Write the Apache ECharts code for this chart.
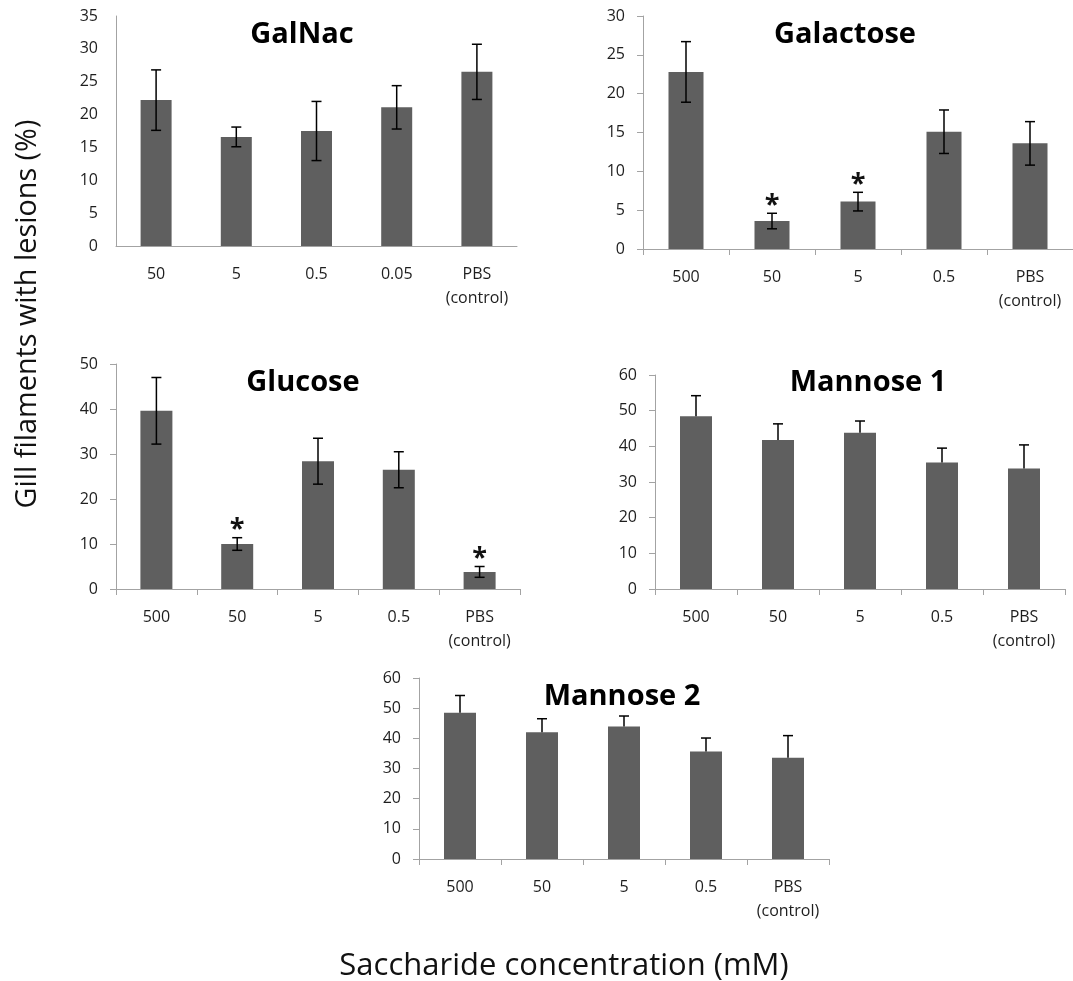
<!DOCTYPE html>
<html>
<head>
<meta charset="utf-8">
<script src="https://cdn.jsdelivr.net/npm/echarts@6/dist/echarts.min.js"></script>
<style>
  html, body { margin: 0; padding: 0; background: #ffffff; }
  #chart { width: 1073px; height: 981px; }
</style>
</head>
<body>
<div id="chart"></div>
<script>
// Saccharide concentrations (mM) on each x axis
const concHigh = ['500', '50', '5', '0.5', 'PBS\n(control)'];
const concLow = ['50', '5', '0.5', '0.05', 'PBS\n(control)'];

// Gill filaments with lesions (%): means and error (SE)
const galnacMean = [22.2, 16.6, 17.5, 21.1, 26.5];
const galnacErr = [4.6, 1.5, 4.5, 3.3, 4.2];

const galactoseMean = [22.8, 3.6, 6.1, 15.1, 13.6];
const galactoseErr = [3.9, 1.0, 1.2, 2.8, 2.8];
const galactoseSig = [0, 1, 1, 0, 0];

const glucoseMean = [39.6, 10.0, 28.4, 26.5, 3.8];
const glucoseErr = [7.4, 1.4, 5.1, 4.0, 1.2];
const glucoseSig = [0, 1, 0, 0, 1];

const mannose1Mean = [48.4, 41.8, 43.8, 35.5, 33.8];
const mannose1Err = [5.8, 4.5, 3.3, 4.0, 6.6];

const mannose2Mean = [48.5, 42.0, 43.9, 35.6, 33.6];
const mannose2Err = [5.7, 4.5, 3.5, 4.5, 7.3];

const panels = [
  { title: 'GalNac', cats: concLow, mean: galnacMean, err: galnacErr, sig: null,
    max: 35, interval: 5, ticks: false, plusOnly: false, barWidth: 31,
    grid: { left: 116, top: 16, width: 401, height: 230 }, titleAt: [302, 35] },
  { title: 'Galactose', cats: concHigh, mean: galactoseMean, err: galactoseErr, sig: galactoseSig,
    max: 30, interval: 5, ticks: true, plusOnly: false, barWidth: 35,
    grid: { left: 643, top: 16, width: 430, height: 233 }, titleAt: [845, 35] },
  { title: 'Glucose', cats: concHigh, mean: glucoseMean, err: glucoseErr, sig: glucoseSig,
    max: 50, interval: 10, ticks: true, plusOnly: false, barWidth: 32,
    grid: { left: 116, top: 364, width: 404, height: 225 }, titleAt: [303, 383] },
  { title: 'Mannose 1', cats: concHigh, mean: mannose1Mean, err: mannose1Err, sig: null,
    max: 60, interval: 10, ticks: true, plusOnly: true, barWidth: 32,
    grid: { left: 655, top: 375, width: 410, height: 214 }, titleAt: [868, 383] },
  { title: 'Mannose 2', cats: concHigh, mean: mannose2Mean, err: mannose2Err, sig: null,
    max: 60, interval: 10, ticks: true, plusOnly: true, barWidth: 32,
    grid: { left: 419, top: 678, width: 410, height: 181 }, titleAt: [622, 697] }
];

const FONT = '"Open Sans", Lato, sans-serif';
const AXIS_COLOR = '#a3a3a3';
const LABEL_COLOR = '#1e1e1e';
const BAR_COLOR = '#5f5f5f';

const grid = [], xAxis = [], yAxis = [], series = [], graphic = [];

panels.forEach((p, i) => {
  grid.push(Object.assign({ containLabel: false }, p.grid));

  xAxis.push({
    type: 'category', gridIndex: i, data: p.cats, boundaryGap: true,
    axisLine: { show: true, lineStyle: { color: AXIS_COLOR, width: 1 } },
    axisTick: { show: p.ticks, length: 6, lineStyle: { color: AXIS_COLOR } },
    axisLabel: { interval: 0, margin: 16, fontSize: 16, lineHeight: 24,
                 color: LABEL_COLOR, fontFamily: FONT },
    splitLine: { show: false }
  });

  yAxis.push({
    type: 'value', gridIndex: i, min: 0, max: p.max, interval: p.interval,
    axisLine: { show: true, lineStyle: { color: AXIS_COLOR, width: 1 } },
    axisTick: { show: p.ticks, length: 6, lineStyle: { color: AXIS_COLOR } },
    axisLabel: { margin: 18, fontSize: 16, color: LABEL_COLOR, fontFamily: FONT },
    splitLine: { show: false }
  });

  series.push({
    type: 'bar', xAxisIndex: i, yAxisIndex: i, data: p.mean,
    barWidth: p.barWidth, itemStyle: { color: BAR_COLOR },
    silent: true, animation: false, z: 2
  });

  // error bars
  const plusOnly = p.plusOnly;
  series.push({
    type: 'custom', xAxisIndex: i, yAxisIndex: i,
    data: p.mean.map((m, k) => [k, m, p.err[k]]),
    renderItem: function (params, api) {
      const k = api.value(0), m = api.value(1), e = api.value(2);
      const top = api.coord([k, m + e]);
      const bot = api.coord([k, plusOnly ? m : m - e]);
      const cap = 5;
      const style = { stroke: '#000', lineWidth: 1.5 };
      const children = [
        { type: 'line', shape: { x1: top[0], y1: top[1], x2: bot[0], y2: bot[1] }, style },
        { type: 'line', shape: { x1: top[0] - cap, y1: top[1], x2: top[0] + cap, y2: top[1] }, style }
      ];
      if (!plusOnly) {
        children.push({ type: 'line', shape: { x1: bot[0] - cap, y1: bot[1], x2: bot[0] + cap, y2: bot[1] }, style });
      }
      return { type: 'group', children };
    },
    silent: true, animation: false, z: 3
  });

  // significance asterisks above the error bars
  if (p.sig) {
    const sigData = [];
    p.sig.forEach((s, k) => { if (s) sigData.push([k, p.mean[k] + p.err[k]]); });
    series.push({
      type: 'custom', xAxisIndex: i, yAxisIndex: i, data: sigData,
      renderItem: function (params, api) {
        const pt = api.coord([api.value(0), api.value(1)]);
        return {
          type: 'text',
          style: { x: pt[0], y: pt[1] - 8, text: '*', fill: '#111',
                   font: 'bold 27px ' + FONT, align: 'center', verticalAlign: 'middle' }
        };
      },
      silent: true, animation: false, z: 4
    });
  }

  graphic.push({
    type: 'text', x: p.titleAt[0], y: p.titleAt[1],
    style: { text: p.title, fill: '#000', font: 'bold 29px ' + FONT,
             align: 'center', verticalAlign: 'middle' }
  });
});

graphic.push({
  type: 'text', x: 28, y: 314, rotation: Math.PI / 2,
  style: { text: 'Gill filaments with lesions (%)', fill: '#111', font: '28.8px ' + FONT,
           align: 'center', verticalAlign: 'middle' }
});
graphic.push({
  type: 'text', x: 564, y: 966,
  style: { text: 'Saccharide concentration (mM)', fill: '#111', font: '31px ' + FONT,
           align: 'center', verticalAlign: 'middle' }
});

const chart = echarts.init(document.getElementById('chart'), null, { renderer: 'canvas' });
chart.setOption({
  backgroundColor: '#ffffff',
  animation: false,
  grid, xAxis, yAxis, series, graphic
});
</script>
</body>
</html>
